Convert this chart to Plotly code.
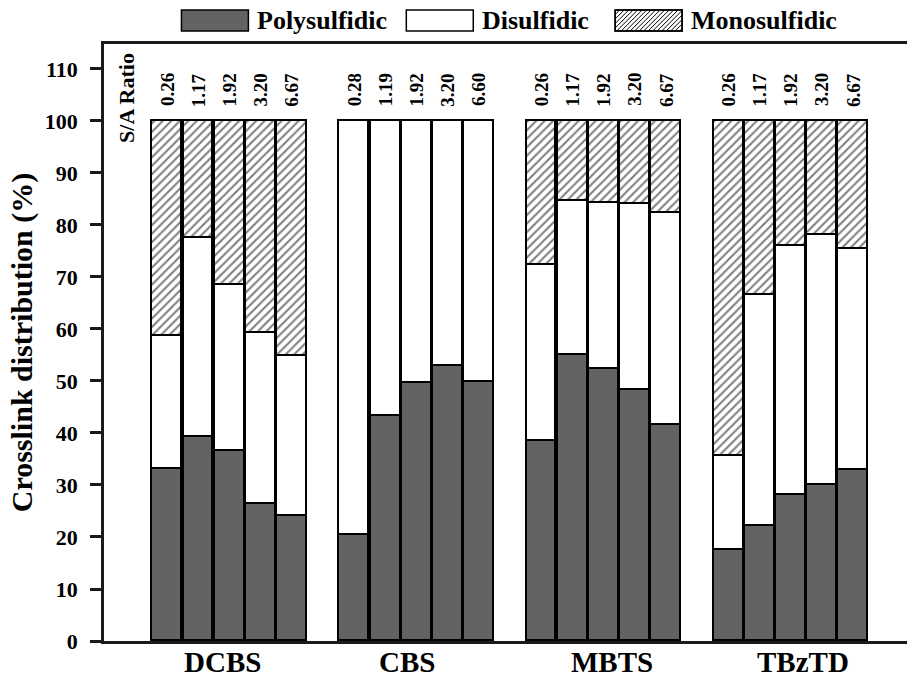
import plotly.graph_objects as go

# ---------------- data ----------------
groups = ["DCBS", "CBS", "MBTS", "TBzTD"]
ratios = [
    ["0.26", "1.17", "1.92", "3.20", "6.67"],
    ["0.28", "1.19", "1.92", "3.20", "6.60"],
    ["0.26", "1.17", "1.92", "3.20", "6.67"],
    ["0.26", "1.17", "1.92", "3.20", "6.67"],
]
polysulfidic = [
    [33.0, 39.2, 36.6, 26.3, 24.1],
    [20.3, 43.2, 49.6, 52.8, 49.9],
    [38.4, 55.0, 52.4, 48.3, 41.5],
    [17.5, 22.2, 28.0, 30.0, 32.8],
]
disulfidic = [
    [25.7, 38.2, 31.9, 32.9, 30.7],
    [79.7, 56.8, 50.4, 47.2, 50.1],
    [33.9, 29.6, 31.9, 35.8, 40.8],
    [18.0, 44.4, 47.9, 48.1, 42.5],
]
monosulfidic = [
    [41.3, 22.6, 31.5, 40.8, 45.2],
    [0.0, 0.0, 0.0, 0.0, 0.0],
    [27.7, 15.4, 15.7, 15.9, 17.7],
    [64.5, 33.4, 24.1, 21.9, 24.7],
]
y_ticks = [0, 10, 20, 30, 40, 50, 60, 70, 80, 90, 100, 110]

# ---------------- layout helpers ----------------
SLOT = 6  # 5 bars + 1 empty slot per group
label_shift = [-0.23, -0.3, 0.25, 0.4]  # small horizontal nudges of group captions
xs, poly, di, mono, labels = [], [], [], [], []
for g in range(len(groups)):
    for i in range(len(ratios[g])):
        xs.append(g * SLOT + i)
        poly.append(polysulfidic[g][i])
        di.append(disulfidic[g][i])
        mono.append(monosulfidic[g][i] if monosulfidic[g][i] > 0 else None)
        labels.append(ratios[g][i])
group_centers = [g * SLOT + 2 for g in range(len(groups))]

FONT = "Liberation Serif"
DARK = "#636365"
W = 0.96
LINE = dict(color="black", width=1.7)

fig = go.Figure()
fig.add_trace(go.Bar(x=xs, y=poly, width=W, name="Polysulfidic",
                     marker=dict(color=DARK, line=LINE)))
fig.add_trace(go.Bar(x=xs, y=di, width=W, name="Disulfidic",
                     marker=dict(color="white", line=LINE)))
fig.add_trace(go.Bar(x=xs, y=mono, width=W, name="Monosulfidic",
                     marker=dict(color="white", line=LINE,
                                 pattern=dict(shape="/", fgcolor="black", bgcolor="white",
                                              size=6, solidity=0.35))))

# S/A ratio labels
for x, t in zip(xs, labels):
    fig.add_annotation(x=x, y=106, text=t, textangle=-90, showarrow=False,
                       xanchor="center", yanchor="middle",
                       font=dict(family=FONT, size=19, color="black", weight="bold"))
fig.add_annotation(x=-1.33, y=104.4, text="S/A Ratio", textangle=-90, showarrow=False,
                   xanchor="center", yanchor="middle",
                   font=dict(family=FONT, size=22, color="black", weight="bold"))

# ---------------- manual legend (paper coords) ----------------
L, PW = 103.5, 803.5   # plot left and width in px
B, PH = 641.0, 597.0   # plot bottom and height in px


def px2paper(x, y):
    return (x - L) / PW, (B - y) / PH


# group captions below the axis
for g, name in enumerate(groups):
    fig.add_annotation(x=group_centers[g] + label_shift[g], xref="x", yref="paper",
                       y=px2paper(0, 662)[1], text=name, showarrow=False,
                       xanchor="center", yanchor="middle",
                       font=dict(family=FONT, size=29, color="black", weight="bold"))


def rect(x0, y0, x1, y1, fill):
    a = px2paper(x0, y0)
    b = px2paper(x1, y1)
    fig.add_shape(type="rect", xref="paper", yref="paper", x0=a[0], y0=a[1], x1=b[0], y1=b[1],
                  fillcolor=fill, line=dict(color="black", width=1.5), layer="above")


sw_y0, sw_y1 = 10, 31
legend_items = [("Polysulfidic", 181, DARK), ("Disulfidic", 406, "white"), ("Monosulfidic", 615, "hatch")]
for name, sx, fill in legend_items:
    sx1 = sx + 67
    if fill == "hatch":
        h = sw_y1 - sw_y0
        path = ""
        k = -h
        while k < (sx1 - sx):
            xb, yb = sx + k, sw_y1
            xt, yt = sx + k + h, sw_y0
            if xb < sx:
                yb = sw_y1 - (sx - xb)
                xb = sx
            if xt > sx1:
                yt = sw_y0 + (xt - sx1)
                xt = sx1
            if xt > xb:
                p0 = px2paper(xb, yb)
                p1 = px2paper(xt, yt)
                path += f"M{p0[0]:.5f},{p0[1]:.5f} L{p1[0]:.5f},{p1[1]:.5f} "
            k += 4.5
        rect(sx, sw_y0, sx1, sw_y1, "white")
        fig.add_shape(type="path", xref="paper", yref="paper", path=path,
                      line=dict(color="black", width=1), layer="above")
        rect(sx, sw_y0, sx1, sw_y1, "rgba(0,0,0,0)")
    else:
        rect(sx, sw_y0, sx1, sw_y1, fill)
    tx, ty = px2paper(sx1 + 7, (sw_y0 + sw_y1) / 2)
    fig.add_annotation(xref="paper", yref="paper", x=tx, y=ty, text=name, showarrow=False,
                       xanchor="left", yanchor="middle",
                       font=dict(family=FONT, size=26, color="black", weight="bold"))

fig.update_layout(
    width=907, height=677,
    margin=dict(l=103.5, r=0, t=44, b=36, pad=0),
    plot_bgcolor="white", paper_bgcolor="white",
    barmode="stack", bargap=0,
    showlegend=False,
    font=dict(family=FONT, color="black"),
)
fig.update_xaxes(
    range=[-2.03, 23.72], tickvals=group_centers, showticklabels=False,
    showline=True, linecolor="#1a1a1a", linewidth=2.5, mirror=True,
    ticks="", showgrid=False, zeroline=False, automargin=False,
)
fig.update_yaxes(
    range=[0, 114.8], tickvals=y_ticks,
    showline=True, linecolor="#1a1a1a", linewidth=2.5,
    ticks="outside", ticklen=11, tickwidth=2.5, tickcolor="#1a1a1a",
    ticklabelstandoff=8, automargin=False,
    showgrid=False, zeroline=False,
    tickfont=dict(family=FONT, size=22, color="black", weight="bold"),
    title=dict(text="Crosslink distribution (%)", standoff=4,
               font=dict(family=FONT, size=30, color="black", weight="bold")),
)

fig.write_html("out.html")
